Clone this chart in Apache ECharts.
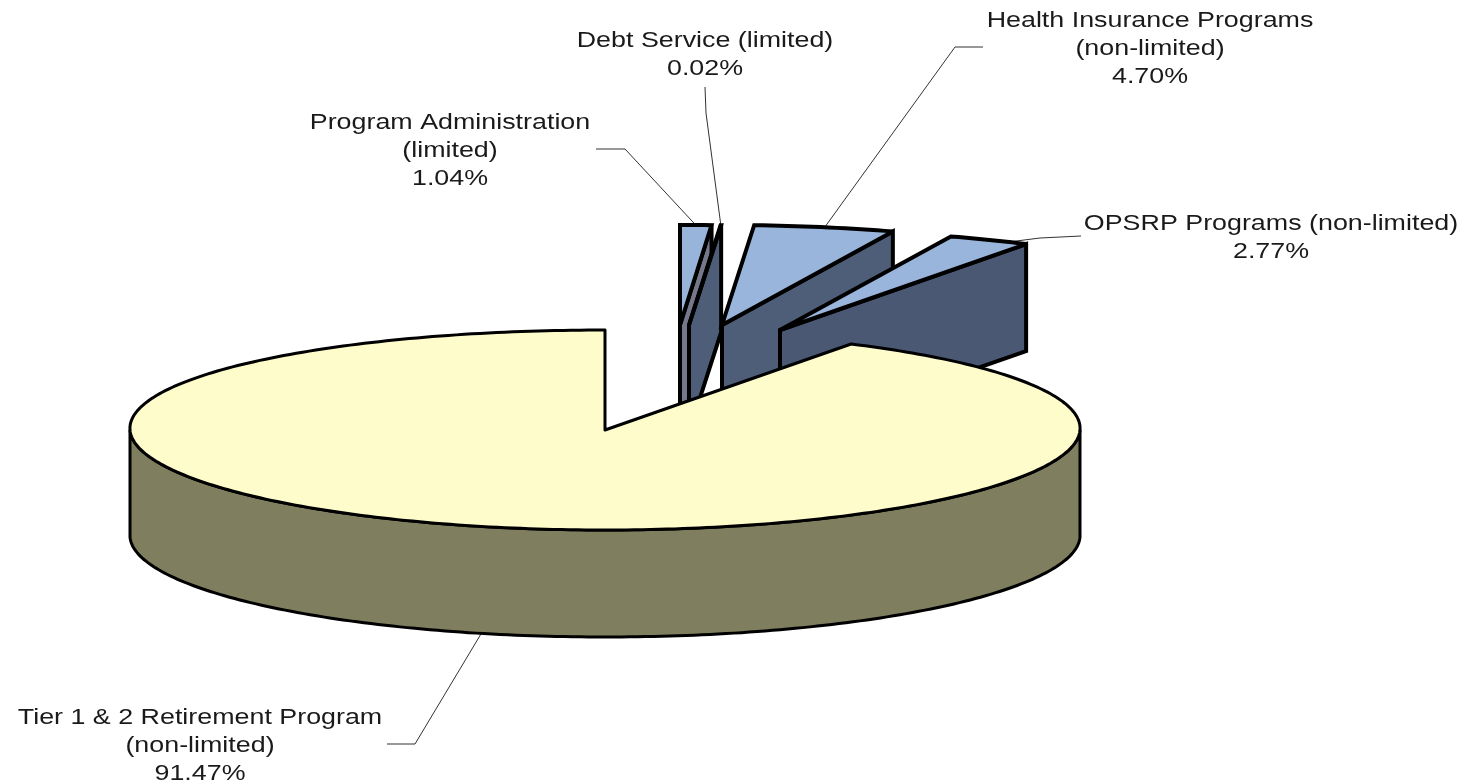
<!DOCTYPE html>
<html>
<head>
<meta charset="utf-8">
<title>Program shares</title>
<style>
  html, body { margin: 0; padding: 0; background: #ffffff; }
  #chart { width: 1474px; height: 784px; }
</style>
<script src="https://cdn.jsdelivr.net/npm/echarts@6/dist/echarts.min.js"></script>
</head>
<body>
<div id="chart"></div>
<script>
// Share of each program, clockwise from twelve o'clock.
const categories = [
  'Program Administration\n(limited)',
  'Debt Service (limited)',
  'Health Insurance Programs\n(non-limited)',
  'OPSRP Programs (non-limited)',
  'Tier 1 & 2 Retirement Program\n(non-limited)'
];
const shares = [1.04, 0.02, 4.70, 2.77, 91.47];

// Pseudo-3D disc geometry; perspective slightly widens the far right quadrant.
const disc = { cx: 605, cy: 430, rx: 475, ry: 100, depth: 107, perspective: 0.0085 };

// How far each wedge is pulled out of the disc, in pixels.
const explodeOffsets = [[75, -105], [84, -105], [117, -105], [175, -100], [0, 0]];

const topColors = ['#98B4DA', '#98B4DA', '#9AB5DC', '#9AB5DC', '#FEFCCB'];
const wallColors = ['#75788A', '#4E5D78', '#4E5D78', '#4A5873', '#7F7F60'];
const outlineWidths = [4, 4, 4, 4, 3];

// Label centres and the two free points of each leader line; the third end
// sits on the wedge's rim at leaderAt (fraction of its sweep).
const labelCentres = [[450, 151], [705, 55], [1150, 49], [1271, 238], [200, 746]];
const leaderBends = [
  [[596, 149], [625, 149]],
  [[705, 87], [706, 113]],
  [[983, 47], [955, 47]],
  [[1081, 236], [1040, 238]],
  [[387, 744], [415, 744]]
];
const leaderAt = [0.5, 0.5, 0.5, 0.76, 0.5];

const FONT_SIZE = 22;
const TEXT_STRETCH = 1.22;
const ARC_STEP = Math.PI / 180;

const total = shares.reduce((a, b) => a + b, 0);
const toAngle = (v) => echarts.number.linearMap(v, [0, total], [0, Math.PI * 2]);

// A point on the rim for a clockwise angle from twelve o'clock.
function rim(angle, ox, oy, drop) {
  return [
    disc.cx + ox + disc.rx * (Math.sin(angle) + disc.perspective * Math.sin(2 * angle)),
    disc.cy + oy - disc.ry * Math.cos(angle) + (drop || 0)
  ];
}

function arcPoints(a0, a1, ox, oy, drop) {
  const pts = [];
  const n = Math.max(2, Math.ceil(Math.abs(a1 - a0) / ARC_STEP));
  for (let i = 0; i <= n; i++) {
    pts.push(rim(a0 + (a1 - a0) * i / n, ox, oy, drop));
  }
  return pts;
}

function renderItem(params, api) {
  const i = params.dataIndex;
  const start = shares.slice(0, i).reduce((a, b) => a + b, 0);
  const a0 = toAngle(start);
  const a1 = toAngle(start + api.value(0));
  const [ox, oy] = explodeOffsets[i];
  const apex = [disc.cx + ox, disc.cy + oy];
  const edge = { stroke: '#000000', lineWidth: outlineWidths[i], lineJoin: 'miter', miterLimit: 3 };
  const children = [];

  // The leader goes first so that the wedge covers any overlap.
  const isFrontSlice = (a0 + a1) / 2 > Math.PI / 2 && (a0 + a1) / 2 < Math.PI * 1.5;
  const anchor = rim(a0 + (a1 - a0) * leaderAt[i], ox, oy, isFrontSlice ? disc.depth : 0);
  children.push({
    type: 'polyline',
    shape: { points: leaderBends[i].concat([anchor]) },
    style: { stroke: '#333333', lineWidth: 1, fill: null }
  });

  if (a1 - a0 < Math.PI) {
    // Exploded wedge: cut wall at its clockwise end, then the top face.
    const end = rim(a1, ox, oy);
    const endLow = rim(a1, ox, oy, disc.depth);
    children.push({
      type: 'polygon',
      shape: { points: [apex, end, endLow, [apex[0], apex[1] + disc.depth]] },
      style: Object.assign({ fill: wallColors[i] }, edge)
    });
    children.push({
      type: 'polygon',
      shape: { points: [apex].concat(arcPoints(a0, a1, ox, oy)) },
      style: Object.assign({ fill: topColors[i] }, edge)
    });
  } else {
    // Main slice: the visible front of the side wall, then the top face.
    const front = arcPoints(Math.PI / 2, Math.PI * 1.5, ox, oy);
    const frontLow = arcPoints(Math.PI * 1.5, Math.PI / 2, ox, oy, disc.depth);
    children.push({
      type: 'polygon',
      shape: { points: front.concat(frontLow) },
      style: Object.assign({ fill: wallColors[i] }, edge)
    });
    children.push({
      type: 'polygon',
      shape: { points: [apex].concat(arcPoints(a0, a1, ox, oy)) },
      style: Object.assign({ fill: topColors[i] }, edge, { lineJoin: 'round' })
    });
  }

  children.push({
    type: 'text',
    x: labelCentres[i][0],
    y: labelCentres[i][1],
    scaleX: TEXT_STRETCH,
    style: {
      text: categories[i] + '\n' + api.value(0).toFixed(2) + '%',
      x: 0,
      y: 0,
      align: 'center',
      verticalAlign: 'middle',
      fontFamily: '"Liberation Sans", Arial, sans-serif',
      fontSize: FONT_SIZE,
      lineHeight: 28,
      fill: '#1a1a1a'
    }
  });

  return { type: 'group', children };
}

const chart = echarts.init(document.getElementById('chart'), null, { renderer: 'canvas' });
chart.setOption({
  animation: false,
  backgroundColor: '#ffffff',
  series: [{
    type: 'custom',
    coordinateSystem: 'none',
    renderItem,
    silent: true,
    clip: false,
    data: shares.map((v, i) => ({ name: categories[i], value: [v] }))
  }]
});
</script>
</body>
</html>
